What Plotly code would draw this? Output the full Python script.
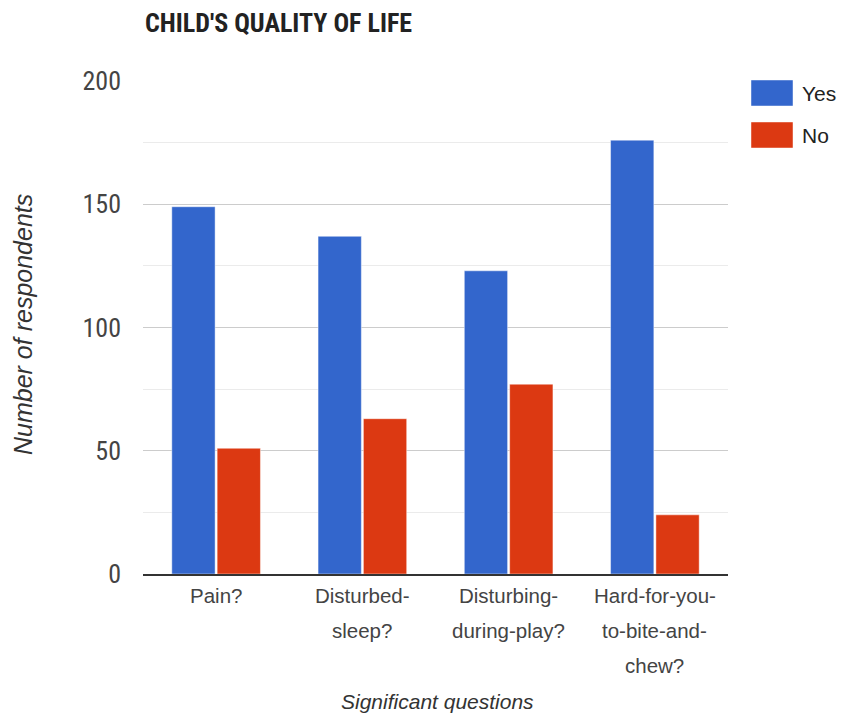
import plotly.graph_objects as go

# Survey results: child's quality of life questions
categories = ["Pain?", "Disturbed-sleep?", "Disturbing-during-play?", "Hard-for-you-to-bite-and-chew?"]
tick_lines = [
    ["Pain?"],
    ["Disturbed-", "sleep?"],
    ["Disturbing-", "during-play?"],
    ["Hard-for-you-", "to-bite-and-", "chew?"],
]
series_names = ["Yes", "No"]
yes_values = [149, 137, 123, 176]
no_values = [51, 63, 77, 24]
y_ticks = [0, 50, 100, 150, 200]

colors = {"Yes": "#3366cc", "No": "#dc3912"}
label_font = "Liberation Sans, Arial, sans-serif"
narrow_font = "Liberation Sans Narrow, Arial Narrow, Roboto Condensed, sans-serif"

fig = go.Figure()
for name, vals in zip(series_names, [yes_values, no_values]):
    fig.add_trace(go.Bar(
        x=categories, y=vals, name=name,
        marker=dict(color=colors[name], line=dict(color="rgba(255,255,255,0.45)", width=1)),
        showlegend=False,
    ))

# Multi-line category labels under the axis, with generous line spacing
annotations = []
for cat, lines in zip(categories, tick_lines):
    for i, line in enumerate(lines):
        annotations.append(dict(
            x=cat, y=0, xref="x", yref="y", text=line, showarrow=False,
            xanchor="center", yanchor="middle", yshift=-(21 + 35 * i),
            font=dict(family=label_font, size=20.5, color="#444444"),
        ))

# Axis titles
annotations.append(dict(
    x=(437 - 143) / 585, y=(574 - 701) / 493, xref="paper", yref="paper",
    text="Significant questions", showarrow=False, xanchor="center", yanchor="middle",
    font=dict(family=label_font, size=21, color="#333333", style="italic"),
))
annotations.append(dict(
    x=(23 - 143) / 585, y=(574 - 325) / 493, xref="paper", yref="paper",
    text="Number of respondents", showarrow=False, textangle=-90,
    xanchor="center", yanchor="middle",
    font=dict(family=label_font, size=25, color="#333333", style="italic"),
))

# Legend drawn as large swatches with labels at the right of the plot
shapes = []
for i, name in enumerate(series_names):
    top = 80 + 42 * i
    shapes.append(dict(
        type="rect", xref="paper", yref="paper",
        x0=(751 - 143) / 585, x1=(793 - 143) / 585,
        y0=(574 - (top + 26)) / 493, y1=(574 - top) / 493,
        fillcolor=colors[name], line=dict(color="rgba(255,255,255,0.45)", width=1),
    ))
    annotations.append(dict(
        x=(800 - 143) / 585, y=(574 - (top + 13)) / 493, xref="paper", yref="paper",
        text=name, showarrow=False, xanchor="left", yanchor="middle",
        font=dict(family=label_font, size=21, color="#222222"),
    ))

fig.update_layout(
    width=841, height=718,
    margin=dict(l=143, r=113, t=81, b=144, autoexpand=False),
    paper_bgcolor="white", plot_bgcolor="white",
    barmode="group", bargap=0.38, bargroupgap=0.045,
    title=dict(
        text="<b>CHILD'S QUALITY OF LIFE</b>",
        x=145 / 841, xanchor="left", xref="container",
        y=1 - 23 / 718, yanchor="middle", yref="container",
        font=dict(family="Liberation Sans Narrow, Roboto Condensed, Arial Narrow, Roboto, sans-serif",
                  size=26, color="#222222"),
    ),
    annotations=annotations,
    shapes=shapes,
    xaxis=dict(
        showticklabels=False, showgrid=False, ticks="",
        showline=True, linecolor="#333333", linewidth=2,
        range=[-0.5, 3.5],
    ),
    yaxis=dict(
        range=[0, 200], tickvals=y_ticks, ticks="",
        showgrid=True, gridcolor="#cccccc", gridwidth=1,
        zeroline=False, showline=False,
        minor=dict(dtick=25, showgrid=True, gridcolor="#ebebeb", ticks=""),
        tickfont=dict(family=narrow_font, size=26, color="#444444"),
        ticklabelstandoff=21,
    ),
)

fig.write_html("out.html")
